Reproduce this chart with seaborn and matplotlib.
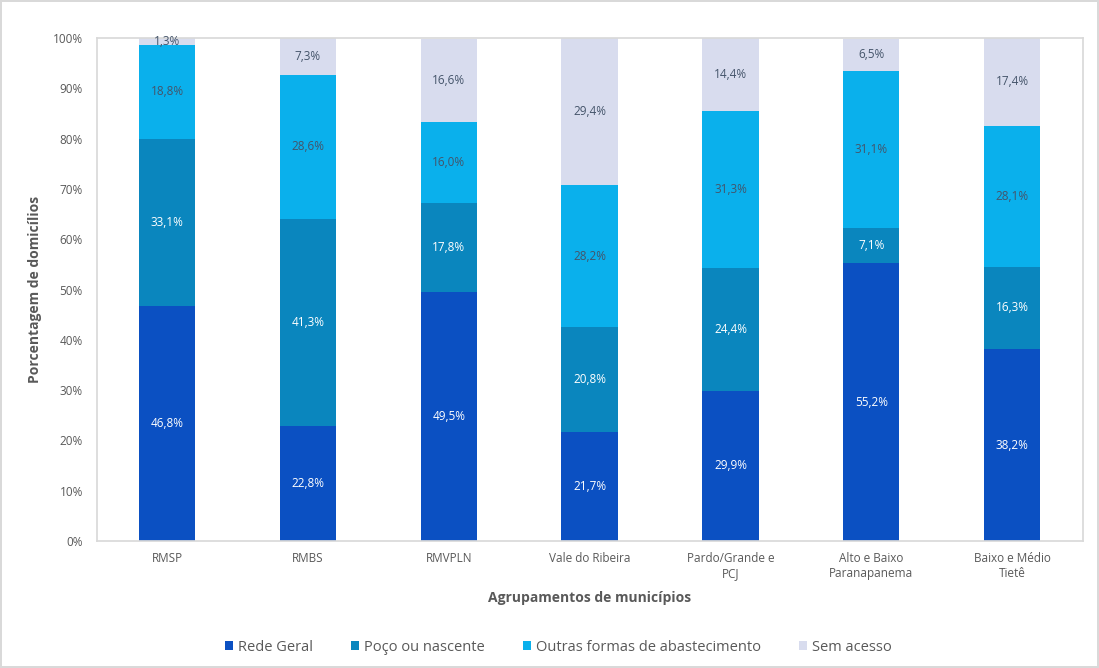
import numpy as np
import pandas as pd
import matplotlib
matplotlib.use("Agg")
import matplotlib.pyplot as plt
import seaborn as sns

categories = ["RMSP", "RMBS", "RMVPLN", "Vale do Ribeira", "Pardo/Grande e\nPCJ",
              "Alto e Baixo\nParanapanema", "Baixo e Médio\nTietê"]
series = ["Rede Geral", "Poço ou nascente", "Outras formas de abastecimento", "Sem acesso"]
rede_geral = [46.8, 22.8, 49.5, 21.7, 29.9, 55.2, 38.2]
poco = [33.1, 41.3, 17.8, 20.8, 24.4, 7.1, 16.3]
outras = [18.8, 28.6, 16.0, 28.2, 31.3, 31.1, 28.1]
sem_acesso = [1.3, 7.3, 16.6, 29.4, 14.4, 6.5, 17.4]

colors = ["#0B50C2", "#0A86BE", "#0AB0EC", "#D8DCEE"]
label_colors = ["white", "white", "#44546A", "#44546A"]

sns.set_theme(style="white")
plt.rcParams["font.family"] = ["Open Sans", "DejaVu Sans"]

df = pd.DataFrame({"cat": categories, "Rede Geral": rede_geral, "Poço ou nascente": poco,
                   "Outras formas de abastecimento": outras, "Sem acesso": sem_acesso})

fig = plt.figure(figsize=(10.99, 6.68), dpi=100)
fig.patch.set_edgecolor("#D9D9D9")
fig.patch.set_linewidth(1.5)
ax = fig.add_axes([0.088, 0.19, 0.897, 0.753])

bottom = np.zeros(len(categories))
for s, c, lc in zip(series, colors, label_colors):
    vals = df[s].to_numpy()
    sns.barplot(x=df["cat"], y=vals, bottom=bottom, color=c, width=0.4, ax=ax,
                label=s, saturation=1, linewidth=0, edgecolor=c)
    cont = ax.containers[-1]
    ax.bar_label(cont, labels=[f"{v:.1f}%".replace(".", ",") for v in vals],
                 label_type="center", color=lc, fontsize=8.5)
    bottom = bottom + vals

ax.set_ylim(0, 100)
ax.set_yticks(np.arange(0, 101, 10))
ax.set_yticklabels([f"{t}%" for t in range(0, 101, 10)], fontsize=8.5, color="#595959")
ax.tick_params(axis="x", labelsize=8.5, labelcolor="#595959", length=0, pad=8)
ax.tick_params(axis="y", length=0, pad=10)
for sp in ax.spines.values():
    sp.set_color("#D9D9D9")
ax.set_xlabel("Agrupamentos de municípios", fontsize=10, fontweight="bold", color="#595959", labelpad=8)
ax.set_ylabel("Porcentagem de domicílios", fontsize=10, fontweight="bold", color="#595959", labelpad=8)

ax.legend(loc="upper center", bbox_to_anchor=(0.468, -0.17), ncol=4, frameon=False,
          fontsize=10.5, labelcolor="#595959", handlelength=0.55, handleheight=0.55,
          handletextpad=0.35, columnspacing=2.6)

fig.savefig("out.png", dpi=100)
